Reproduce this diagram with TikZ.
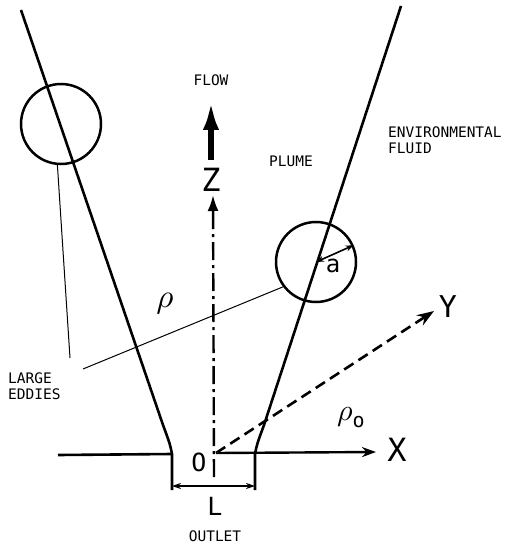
\documentclass[tikz,border=0pt]{standalone}
\usepackage{fontspec}
\setmonofont{DejaVu Sans Mono}
\usetikzlibrary{arrows.meta,positioning}

\begin{document}
\begin{tikzpicture}[x=1pt,y=-1pt,
wall/.style={line width=2.6pt},
leader/.style={line width=1pt},
eddy/.style={circle,draw,line width=2.5pt,minimum size=80pt,inner sep=0pt},
tag/.style={font=\fontsize{14.5}{16}\selectfont\ttfamily,inner sep=0pt},
axlbl/.style={font=\fontsize{32}{32}\selectfont\ttfamily,inner sep=0pt}]
\useasboundingbox (0,0) rectangle (508,548);
% plume edges and outlet
\coordinate (LT) at (21,10);
\coordinate (LK) at (163,425);
\coordinate (LB) at (172,454);
\coordinate (LD) at (172,490);
\coordinate (RT) at (401,6);
\coordinate (RK) at (264,425);
\coordinate (RB) at (255,454);
\coordinate (RD) at (255,490);
\coordinate (G) at (58,455);
\draw[wall] (LT)--(LK) .. controls (170,444) .. (LB)--(LD);
\draw[wall] (RT)--(RK) .. controls (257,444) .. (RB)--(RD);
\draw[wall] (G)--(LB);
% axes
\coordinate (O) at (216,453);
\coordinate (Ob) at (214,477);
\coordinate (Zt) at (213,195);
\coordinate (Xt) at (376,452);
\coordinate (Yt) at (434,311);
\draw[line width=2.4pt,-{Stealth[length=14pt,width=10pt]}] (O)--(Xt);
\draw[line width=2.4pt,dash pattern=on 18pt off 5pt on 3pt off 5pt,
  -{Latex[length=16pt,width=11pt]}] (Ob)--(Zt);
\draw[line width=2.6pt,dash pattern=on 11pt off 6pt,
  -{Stealth[length=17pt,width=12pt]}] (O)--(Yt);
\node[axlbl] (X) at (397,450) {X};
\node[axlbl,font=\fontsize{30}{30}\selectfont\ttfamily] (Y) at (448,307) {Y};
\node[axlbl] (Z) at (211,180) {Z};
\node[axlbl,font=\fontsize{25}{25}\selectfont\ttfamily] (Olbl) at (199,462) {O};
% flow arrow
\coordinate (Fb) at (211,160);
\coordinate (Ft) at (211,100);
\draw[line width=6pt,-{Latex[length=30pt,width=16pt]}] (Fb)--(Ft);
\node[tag] (flow) at (211,80) {FLOW};
% outlet width
\coordinate (La) at (172,486);
\coordinate (Lb) at (255,486);
\draw[line width=1.6pt,{Stealth[length=9pt,width=6pt]}-{Stealth[length=9pt,width=6pt]}] (La)--(Lb);
\node[axlbl,font=\fontsize{25}{25}\selectfont\ttfamily] (L) at (215,506) {L};
\node[tag] (outlet) at (215,536) {OUTLET};
% eddies
\node[eddy] (E1) at (61,124) {};
\node[eddy] (E2) at (316,262) {};
\draw[line width=1.6pt,{Stealth[length=8pt,width=6pt]}-{Stealth[length=8pt,width=6pt]}]
  (E2.center)--(E2.24);
\node[axlbl,font=\fontsize{24}{24}\selectfont\ttfamily] (a) at (333,266) {a};
\coordinate (P1) at (70,358);
\coordinate (P2) at (83,369);
\draw[leader] (E1.265)--(P1);
\draw[leader] (E2.217)--(P2);
\node[tag,align=left,anchor=west] (eddies) at (8,386) {LARGE\\EDDIES};
% labels
\node[tag] (plume) at (291,161) {PLUME};
\node[tag,align=left,anchor=west] (env) at (388,140) {ENVIRONMENTAL\\FLUID};
\node[inner sep=0pt] (rho) at (165,304) {\scalebox{3.3}{$\rho$}};
\node[inner sep=0pt] (rho0) at (351,418)
  {\scalebox{3}{$\rho$}\raisebox{-7pt}{\fontsize{20}{20}\selectfont\ttfamily o}};
\end{tikzpicture}
\end{document}
